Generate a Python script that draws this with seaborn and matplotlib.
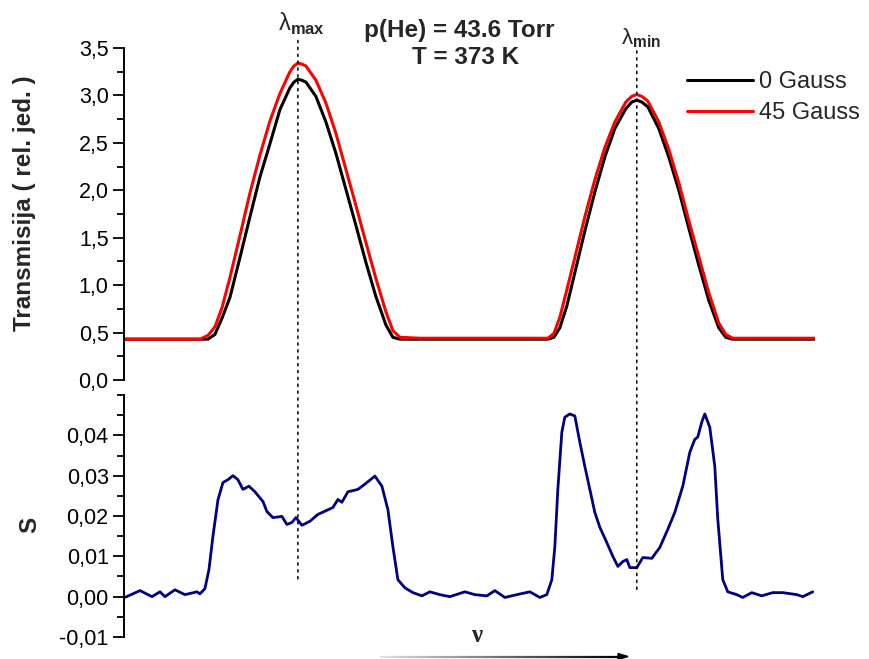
"""
Transmisija i signal S za p(He) = 43.6 Torr, T = 373 K
"""
import numpy as np
import pandas as pd
import matplotlib
matplotlib.use('Agg')
import matplotlib.pyplot as plt
import seaborn as sns
from matplotlib.patches import ConnectionPatch
from matplotlib.collections import LineCollection
from matplotlib.ticker import FixedLocator, MultipleLocator
from matplotlib.transforms import blended_transform_factory

# --- data (x in arbitrary channel units) ---
channel = [0, 36, 76, 84, 91, 98, 106, 116, 126, 136, 146, 156, 166, 170, 174, 178, 182,
           192, 202, 212, 222, 232, 242, 252, 262, 269, 276, 296, 346, 396, 424, 430,
           436, 443, 451, 461, 471, 481, 491, 502, 508, 513, 518, 524, 535, 545, 555,
           565, 575, 585, 595, 602, 609, 621, 656, 691]
trans_0g = [0.43, 0.43, 0.43, 0.43, 0.48, 0.65, 0.87, 1.29, 1.72, 2.14, 2.49, 2.85,
            3.08, 3.14, 3.17, 3.16, 3.14, 2.99, 2.72, 2.39, 2.01, 1.63, 1.24, 0.88,
            0.58, 0.45, 0.43, 0.43, 0.43, 0.43, 0.43, 0.45, 0.55, 0.78, 1.13, 1.57,
            1.98, 2.35, 2.65, 2.86, 2.93, 2.95, 2.93, 2.88, 2.65, 2.35, 2.00, 1.60,
            1.21, 0.84, 0.55, 0.45, 0.43, 0.43, 0.43, 0.43]
trans_45g = [0.43, 0.43, 0.43, 0.47, 0.56, 0.76, 1.08, 1.52, 1.97, 2.37, 2.73, 3.02,
             3.25, 3.31, 3.34, 3.33, 3.31, 3.16, 2.92, 2.60, 2.22, 1.84, 1.45, 1.07,
             0.72, 0.52, 0.45, 0.44, 0.44, 0.44, 0.44, 0.49, 0.66, 0.95, 1.29, 1.72,
             2.11, 2.45, 2.72, 2.93, 2.99, 3.01, 2.99, 2.94, 2.72, 2.43, 2.08, 1.68,
             1.30, 0.92, 0.60, 0.48, 0.44, 0.44, 0.44, 0.44]

s_channel = [0, 16, 28, 36, 41, 51, 61, 73, 76, 81, 85, 89, 94, 99, 104, 109, 114, 119,
             125, 131, 139, 143, 149, 158, 163, 168, 172, 178, 186, 194, 209, 214, 218,
             224, 234, 241, 251, 258, 264, 269, 274, 281, 289, 298, 306, 316, 326, 341,
             351, 363, 371, 381, 393, 406, 416, 423, 428, 431, 434, 438, 441, 446, 451,
             456, 461, 466, 471, 476, 483, 489, 494, 499, 503, 506, 513, 519, 528, 536,
             544, 551, 559, 566, 571, 574, 578, 581, 586, 591, 594, 599, 604, 613, 619,
             628, 638, 649, 659, 673, 679, 689]
s_signal = [-0.0003, 0.0015, 0.0, 0.0012, 0.0, 0.0017, 0.0005, 0.0012, 0.0007, 0.002,
            0.0067, 0.015, 0.024, 0.0283, 0.029, 0.030, 0.029, 0.0266, 0.0274, 0.026,
            0.0236, 0.0211, 0.0196, 0.0199, 0.0179, 0.0184, 0.0196, 0.0177, 0.0187,
            0.0204, 0.0221, 0.0241, 0.0234, 0.026, 0.0266, 0.0279, 0.0299, 0.0274,
            0.0216, 0.0124, 0.0042, 0.0022, 0.001, 0.0002, 0.0012, 0.0005, 0.0,
            0.0012, 0.0005, 0.0002, 0.0015, -0.0002, 0.0005, 0.0012, -0.0002, 0.0005,
            0.0042, 0.0124, 0.0266, 0.0408, 0.0445, 0.0453, 0.0448, 0.0383, 0.0323,
            0.0266, 0.0209, 0.0172, 0.0134, 0.010, 0.0075, 0.0087, 0.0092, 0.0072,
            0.0072, 0.0097, 0.0095, 0.0122, 0.0167, 0.0209, 0.0274, 0.0358, 0.039,
            0.0396, 0.0433, 0.0453, 0.042, 0.0323, 0.0192, 0.0042, 0.0012, 0.0005,
            -0.0002, 0.001, 0.0002, 0.001, 0.001, 0.0005, 0.0, 0.0012]

top_ticks = [0.0, 0.5, 1.0, 1.5, 2.0, 2.5, 3.0, 3.5]
top_tick_labels = ['0,0', '0,5', '1,0', '1,5', '2,0', '2,5', '3,0', '3,5']
s_ticks = [-0.01, 0.0, 0.01, 0.02, 0.03, 0.04]
s_tick_labels = ['-0,01', '0,00', '0,01', '0,02', '0,03', '0,04']

lambda_max_ch = 174
lambda_min_ch = 513

assert len(channel) == len(trans_0g) == len(trans_45g)
assert len(s_channel) == len(s_signal)

# --- style ---
sns.set_theme(style='ticks')
plt.rcParams['font.family'] = ['Liberation Sans', 'DejaVu Sans']
plt.rcParams['mathtext.fontset'] = 'custom'
plt.rcParams['mathtext.rm'] = 'Liberation Sans'
plt.rcParams['mathtext.bf'] = 'Liberation Sans:bold'

fig = plt.figure(figsize=(8.7, 6.59), dpi=100)
ax_t = fig.add_axes([0.1425, 0.4234, 0.794, 0.5038])
ax_b = fig.add_axes([0.1425, 0.0334, 0.794, 0.3672])

n = len(channel)
df_t = pd.DataFrame({
    'channel': channel + channel,
    'T': trans_0g + trans_45g,
    'field': ['0 Gauss'] * n + ['45 Gauss'] * n,
})
sns.lineplot(data=df_t, x='channel', y='T', hue='field',
             palette={'0 Gauss': 'black', '45 Gauss': 'red'},
             lw=2.2, ax=ax_t)

df_b = pd.DataFrame({'channel': s_channel, 'S': s_signal})
sns.lineplot(data=df_b, x='channel', y='S', color='#000080', lw=2.0, ax=ax_b)

for ax in (ax_t, ax_b):
    sns.despine(ax=ax, bottom=True)
    ax.set_xlim(0, 691)
    ax.set_xlabel('')
    ax.set_ylabel('')
    ax.tick_params(axis='x', bottom=False, labelbottom=False)
    ax.tick_params(axis='y', which='major', length=8, width=1.3, pad=3,
                   labelsize=15.5, color='black', labelcolor='black')
    ax.tick_params(axis='y', which='minor', left=True, length=5, width=1.3, color='black')
    ax.spines['left'].set_linewidth(1.4)
    ax.spines['left'].set_color('black')

ax_t.set_ylim(0, 3.5)
ax_t.yaxis.set_major_locator(FixedLocator(top_ticks))
ax_t.set_yticklabels(top_tick_labels)
ax_t.yaxis.set_minor_locator(MultipleLocator(0.25))

ax_b.set_ylim(-0.01, 0.05)
ax_b.yaxis.set_major_locator(FixedLocator(s_ticks))
ax_b.set_yticklabels(s_tick_labels)
ax_b.yaxis.set_minor_locator(MultipleLocator(0.005))

# legend
ax_t.legend(frameon=False, loc='upper left',
            bbox_to_anchor=(687 / 870, 1 - 71 / 659), bbox_transform=fig.transFigure,
            fontsize=17, handlelength=2.8, handletextpad=0.25,
            labelspacing=0.38, borderpad=0, borderaxespad=0)

# dotted markers at lambda_max / lambda_min spanning both panels
for ch, y_top, y_bot in [(lambda_max_ch, 3.58, 0.0042), (lambda_min_ch, 3.47, 0.0012)]:
    con = ConnectionPatch(xyA=(ch, y_top), coordsA=ax_t.transData,
                          xyB=(ch, y_bot), coordsB=ax_b.transData,
                          linestyle=(0, (1.5, 3)), color='black', lw=1.1)
    fig.add_artist(con)

tr = blended_transform_factory(ax_t.transData, fig.transFigure)
ax_t.text(lambda_max_ch + 4, 1 - 24 / 659, r'$\mathrm{λ}_{\mathbf{max}}$', transform=tr,
          ha='center', va='center', fontsize=17)
ax_t.text(lambda_min_ch + 4, 1 - 38 / 659, r'$\mathrm{λ}_{\mathbf{min}}$', transform=tr,
          ha='center', va='center', fontsize=16)

# annotations
fig.text(459 / 870, 1 - 31 / 659, 'p(He) = 43.6 Torr', ha='center', va='center',
         fontsize=17.5, fontweight='bold')
fig.text(466 / 870, 1 - 58 / 659, 'T = 373 K', ha='center', va='center',
         fontsize=17.5, fontweight='bold')
fig.text(25 / 870, 1 - 203 / 659, 'Transmisija ( rel. jed. )', rotation=90,
         ha='center', va='center', fontsize=17.5, fontweight='bold')
fig.text(30 / 870, 1 - 525 / 659, 'S', rotation=90,
         ha='center', va='center', fontsize=17.5, fontweight='bold')
fig.text(477 / 870, 1 - 635 / 659, 'ν', ha='center', va='center',
         fontsize=18, fontweight='bold', family=['Liberation Serif', 'DejaVu Serif'])

# frequency arrow with grey-to-black gradient
xs = np.linspace(380 / 870, 620 / 870, 60)
y_arr = 1 - 656.5 / 659
segs = [[(xs[i], y_arr), (xs[i + 1], y_arr)] for i in range(len(xs) - 1)]
shades = np.linspace(0.88, 0.0, len(segs))
lc = LineCollection(segs, colors=[(s, s, s) for s in shades], linewidths=1.6,
                    transform=fig.transFigure)
fig.add_artist(lc)
fig.add_artist(plt.Polygon([(618 / 870, y_arr + 3 / 659), (628 / 870, y_arr),
                            (618 / 870, y_arr - 3 / 659)], closed=True,
                           color='black', transform=fig.transFigure))

fig.savefig('out.png', dpi=100)
